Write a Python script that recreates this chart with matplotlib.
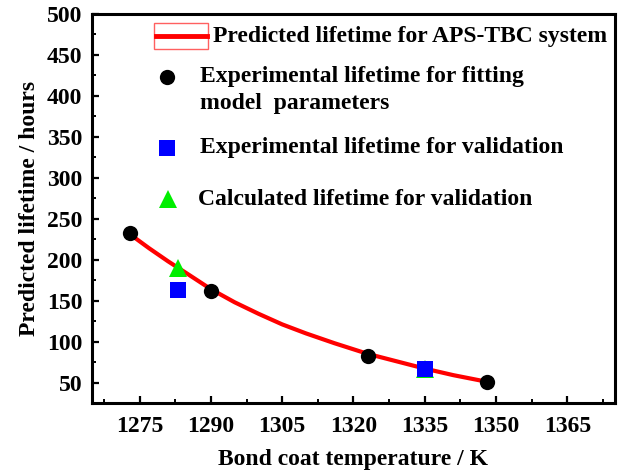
import matplotlib
matplotlib.use("Agg")
import matplotlib.pyplot as plt
from matplotlib.patches import Rectangle

# Dados
curve_temp = [1273, 1277, 1281, 1285, 1290, 1295, 1300, 1305, 1310, 1316, 1323, 1329, 1335, 1341, 1348]
curve_life = [231, 214, 198, 183, 164, 148, 134, 121, 110, 98, 85, 76, 67, 59, 51]

fit_temp = [1273, 1290, 1323, 1348]
fit_life = [232, 162, 83, 51]

valid_exp_temp = [1283, 1335]
valid_exp_life = [163, 67]

valid_calc_temp = [1283, 1335]
valid_calc_life = [190, 66]

xticks = [1275, 1290, 1305, 1320, 1335, 1350, 1365]
yticks = [50, 100, 150, 200, 250, 300, 350, 400, 450, 500]

labels = [
    'Predicted lifetime for APS-TBC system',
    'Experimental lifetime for fitting\nmodel  parameters',
    'Experimental lifetime for validation',
    'Calculated lifetime for validation',
]

plt.rcParams['font.family'] = 'Liberation Serif'
plt.rcParams['font.weight'] = 'bold'

fig = plt.figure(figsize=(6.22, 4.70), dpi=100)
ax = fig.add_axes([92 / 622, 1 - 403 / 470, 523 / 622, 389 / 470])

ax.plot(curve_temp, curve_life, color='#ff0000', lw=3, zorder=2)
ax.plot(valid_calc_temp, valid_calc_life, '^', color='#00ee00', ms=13, mew=0, zorder=3)
ax.plot(valid_exp_temp, valid_exp_life, 's', color='#0000ff', ms=11, mew=0, zorder=4)
ax.plot(fit_temp, fit_life, 'o', color='black', ms=11, mew=0, zorder=5)

ax.set_xlim(1265, 1375)
ax.set_ylim(25, 500)
ax.set_xticks(xticks)
ax.set_yticks(yticks)
ax.set_xticks([t + 7.5 for t in [1260] + xticks], minor=True)
ax.set_yticks([t - 25 for t in yticks[1:]], minor=True)

for s in ax.spines.values():
    s.set_linewidth(2.2)
ax.tick_params(which='major', direction='in', length=5, width=1.6, labelsize=17, pad=7)
ax.tick_params(which='minor', direction='in', length=3, width=1.4)
ax.tick_params(axis='x', pad=9)

ax.set_xlabel('Bond coat temperature / K', fontsize=17, fontweight='bold', labelpad=9)
ax.set_ylabel('Predicted lifetime / hours', fontsize=17, fontweight='bold', labelpad=5)


# legenda manual (posições em pixels da figura)
def px(x, y):
    return ((x - 92) / 523, (403 - y) / 389)


fs = 17
ax.plot([px(156, 0)[0], px(207, 0)[0]], [px(0, 36)[1]] * 2, color='#ff0000', lw=3.5,
        transform=ax.transAxes, clip_on=False)
x0, y0 = px(154, 49)
x1, y1 = px(208, 23)
ax.add_patch(Rectangle((x0, y0), x1 - x0, y1 - y0, transform=ax.transAxes, fill=False,
                       edgecolor='#ff6060', lw=1))
ax.text(*px(213, 37), labels[0], transform=ax.transAxes, va='center', fontsize=fs)

ax.plot(*px(167, 77), 'o', color='black', ms=11, mew=0, transform=ax.transAxes)
ax.text(*px(200, 77), labels[1].split('\n')[0], transform=ax.transAxes, va='center', fontsize=fs)
ax.text(*px(200, 104), labels[1].split('\n')[1], transform=ax.transAxes, va='center', fontsize=fs)

ax.plot(*px(167, 148), 's', color='#0000ff', ms=11, mew=0, transform=ax.transAxes)
ax.text(*px(200, 148), labels[2], transform=ax.transAxes, va='center', fontsize=fs)

ax.plot(*px(168, 199), '^', color='#00ee00', ms=13, mew=0, transform=ax.transAxes)
ax.text(*px(198, 200), labels[3], transform=ax.transAxes, va='center', fontsize=fs)

fig.savefig('out.png', dpi=100)
